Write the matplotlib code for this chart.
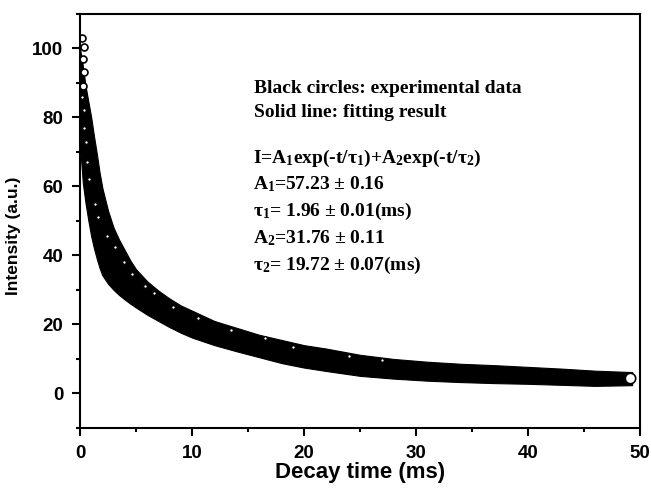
"""
Luminescence decay curve with bi-exponential fit
"""

import matplotlib
matplotlib.use("Agg")
import matplotlib.pyplot as plt
from matplotlib.ticker import MultipleLocator

# ----------------------------------------------------------------------
# Data
# ----------------------------------------------------------------------

# band of overlapping experimental circles (upper / lower edge)
t_band = [0, 0.25, 0.5, 0.75, 1, 1.25, 1.5, 1.75, 2, 2.5, 3, 3.5, 4, 4.5, 5,
          6, 7, 8, 9, 10, 12, 14, 16, 18, 20, 22, 25, 28, 31, 34, 37, 40, 43,
          46, 49.3]
i_upper = [100, 95, 89, 84.5, 80, 74.5, 69.5, 64, 59.5, 53, 48, 44.5, 41.5,
           38.5, 36, 32.5, 29.8, 27.5, 25.5, 24, 21, 19, 17, 15.5, 14, 13,
           11.2, 10, 9.2, 8.6, 8.2, 7.7, 7.2, 6.6, 6.2]
i_lower = [72, 61, 55, 50, 45.5, 42, 39, 36.3, 34.2, 31.8, 30, 28.5, 27.2, 26,
           24.9, 22.8, 21, 19.2, 17.6, 16.2, 14, 12.2, 10.5, 8.8, 7.5, 6.5,
           5.1, 4.3, 3.7, 3.3, 3.0, 2.8, 2.5, 2.2, 2.4]

# fitted curve (centre of the band)
t_fit = [0, 0.5, 1, 1.5, 2, 3, 4, 5, 6, 8, 10, 12, 15, 20, 25, 30, 35, 40,
         45, 49.3]
i_fit = [88, 74, 63, 55, 48, 39.5, 34, 30.5, 27.5, 23.5, 20.5, 17.8, 14.8,
         11.2, 8.3, 6.6, 5.8, 5.2, 4.7, 4.4]

# circles that stay visible at the top of the decay
t_top = [0.2, 0.35, 0.25, 0.4, 0.3]
i_top = [103, 100.5, 97, 93, 89]

# white specks inside the band
t_speck = [0.2, 0.4, 0.35, 0.5, 0.6, 0.8, 1.3, 1.6, 2.4, 3.1, 3.9, 4.6, 5.8,
           6.6, 8.3, 10.5, 13.5, 16.5, 19, 24, 27]
i_speck = [86, 82, 77, 73, 67, 62, 55, 51, 45.5, 42.5, 38, 34.5, 31, 29, 25,
           22, 18.5, 16, 13.6, 10.8, 9.6]

# last point of the record
t_end = [49.1]
i_end = [4.5]

fit_lines = [
    "I=A$_1$exp(-t/τ$_1$)+A$_2$exp(-t/τ$_2$)",
    "A$_1$=57.23 ± 0.16",
    "τ$_1$= 1.96 ± 0.01(ms)",
    "A$_2$=31.76 ± 0.11",
    "τ$_2$= 19.72 ± 0.07(ms)",
]

# ----------------------------------------------------------------------
# Plot
# ----------------------------------------------------------------------

plt.rcParams["font.family"] = ["Liberation Sans", "DejaVu Sans"]
plt.rcParams["mathtext.fontset"] = "custom"
plt.rcParams["mathtext.rm"] = "Liberation Serif:bold"
plt.rcParams["mathtext.bf"] = "Liberation Serif:bold"
plt.rcParams["mathtext.default"] = "bf"

fig = plt.figure(figsize=(6.51, 4.88), dpi=100)
ax = fig.add_axes([0.1229, 0.123, 0.8602, 0.8487])

ax.fill_between(t_band, i_lower, i_upper, color="black", lw=0.8,
                edgecolor="black")
ax.plot(t_fit, i_fit, color="black", lw=1.5)
ax.plot(t_top, i_top, "o", ms=5, mfc="white", mec="black", mew=1.2, ls="none")
ax.plot(t_speck, i_speck, "o", ms=2.6, mfc="white", mec="black", mew=0.9,
        ls="none")
ax.plot(t_end, i_end, "o", ms=7.5, mfc="white", mec="black", mew=1.2)

ax.set_xlim(0, 50)
ax.set_ylim(-10, 110)
ax.xaxis.set_major_locator(MultipleLocator(10))
ax.xaxis.set_minor_locator(MultipleLocator(5))
ax.yaxis.set_major_locator(MultipleLocator(20))
ax.yaxis.set_minor_locator(MultipleLocator(10))

ax.tick_params(which="both", direction="out", top=False, right=False, width=1.5)
ax.tick_params(which="major", length=6, pad=6, labelsize=13.5)
ax.tick_params(which="minor", length=2.8)
for lab in ax.get_xticklabels() + ax.get_yticklabels():
    lab.set_fontweight("bold")
for sp in ax.spines.values():
    sp.set_linewidth(1.5)

ax.set_xlabel("Decay time (ms)", fontsize=16, fontweight="bold", labelpad=0)
ax.set_ylabel("Intensity (a.u.)", fontsize=12.5, fontweight="bold")
ax.yaxis.set_label_coords(-0.105, 0.464)

serif = dict(family="Liberation Serif", fontweight="bold", fontsize=14,
             transform=ax.transAxes, va="baseline", ha="left")
ax.text(0.311, 0.809, "Black circles: experimental data", **serif)
ax.text(0.311, 0.751, "Solid line: fitting result", **serif)
for k, line in enumerate(fit_lines):
    ax.text(0.309, 0.640 - 0.0645 * k, line, **serif)

fig.savefig("out.png", dpi=100)
plt.close(fig)
